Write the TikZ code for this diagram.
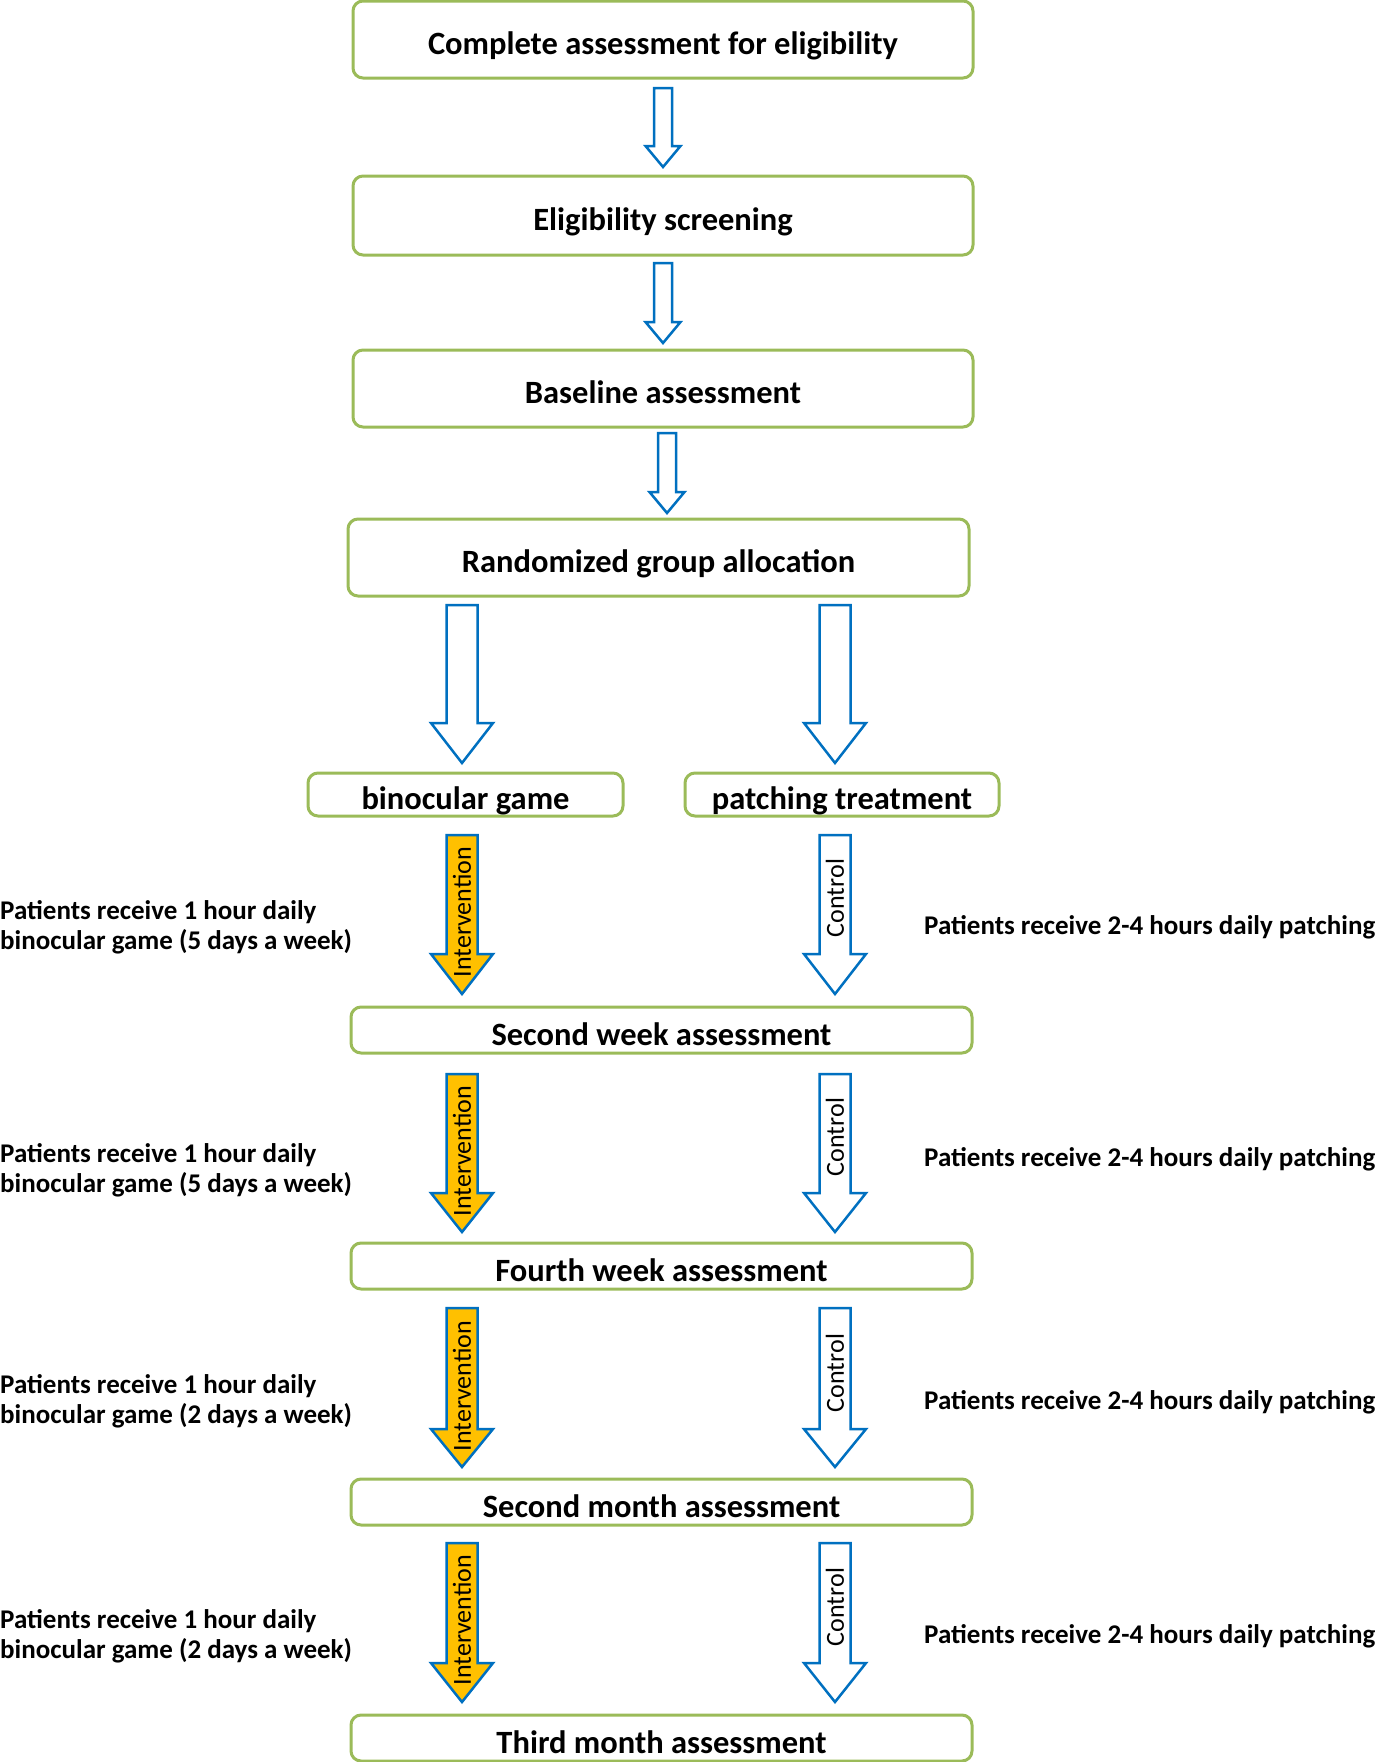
\documentclass[tikz,border=0pt]{standalone}
\usepackage{fontspec}
\setmainfont{Carlito}
\definecolor{boxgreen}{HTML}{9BBB59}
\definecolor{arrblue}{HTML}{0070C0}
\definecolor{gold}{HTML}{FFC000}
\newcommand{\blockarr}[7]{%
  \draw[arrowline, fill=#7] (#1-#5,#2) -- (#1+#5,#2) -- (#1+#5,#3) -- (#1+#6,#3) -- (#1,#4) -- (#1-#6,#3) -- (#1-#5,#3) -- cycle;}
\begin{document}
\begin{tikzpicture}[x=1pt,y=-1pt,
  stagebox/.style={draw=boxgreen, line width=3pt, rounded corners=10pt, fill=white, inner sep=0pt,
     font=\fontsize{32.5}{36}\selectfont\bfseries, text height=32pt, text depth=2pt},
  arrowline/.style={draw=arrblue, line width=2.5pt, line join=miter},
  sidetext/.style={font=\fontsize{27}{30}\selectfont\bfseries, align=left, inner sep=0pt},
  armlabel/.style={font=\fontsize{26}{30}\selectfont, rotate=90, inner sep=0pt}]
\useasboundingbox (0,0) rectangle (1377,1762);
% boxes
\node[stagebox, minimum width=620pt, minimum height=77pt] (b1) at (663,39.5) {Complete assessment for eligibility};
\node[stagebox, minimum width=620pt, minimum height=79pt] (b2) at (663,215.5) {Eligibility screening};
\node[stagebox, minimum width=620pt, minimum height=77pt] (b3) at (663,388.5) {Baseline assessment};
\node[stagebox, minimum width=621pt, minimum height=77pt] (b4) at (658.5,557.5) {Randomized group allocation};
\node[stagebox, minimum width=315pt, minimum height=43pt] (bg) at (465.5,794.5) {binocular game};
\node[stagebox, minimum width=314pt, minimum height=43pt] (pt) at (842,794.5) {patching treatment};
\node[stagebox, minimum width=621pt, minimum height=46pt] (w2) at (661.5,1030) {Second week assessment};
\node[stagebox, minimum width=621pt, minimum height=46pt] (w4) at (661.5,1266) {Fourth week assessment};
\node[stagebox, minimum width=621pt, minimum height=46pt] (m2) at (661.5,1502) {Second month assessment};
\node[stagebox, minimum width=621pt, minimum height=46pt] (m3) at (661.5,1738) {Third month assessment};
% small arrows
\blockarr{663}{88}{146}{167}{9}{17.5}{white}
\blockarr{663}{263}{322}{343}{9}{17.5}{white}
\blockarr{667}{433}{492}{513}{9}{17.5}{white}
% big arrows
\blockarr{462}{605}{723}{763}{15.5}{31}{white}
\blockarr{835}{605}{723}{763}{15.5}{31}{white}
% arm arrows
\foreach \yt/\yh/\yb in {835/954/994, 1074/1193/1232, 1308/1429/1467, 1543/1663/1702}{
  \blockarr{462}{\yt}{\yh}{\yb}{15.5}{31}{gold}
  \blockarr{835}{\yt}{\yh}{\yb}{15.5}{31}{white}
}
\node[armlabel] (i1) at (462,912) {Intervention};
\node[armlabel] (c1) at (835,898) {Control};
\node[armlabel] (i2) at (462,1151) {Intervention};
\node[armlabel] (c2) at (835,1137) {Control};
\node[armlabel] (i3) at (462,1386) {Intervention};
\node[armlabel] (c3) at (835,1373) {Control};
\node[armlabel] (i4) at (462,1620) {Intervention};
\node[armlabel] (c4) at (835,1607) {Control};
% side texts
\node[sidetext, anchor=west] (l1) at (0,927) {Patients receive 1 hour daily\\binocular game (5 days a week)};
\node[sidetext, anchor=west] (l2) at (0,1170) {Patients receive 1 hour daily\\binocular game (5 days a week)};
\node[sidetext, anchor=west] (l3) at (0,1401) {Patients receive 1 hour daily\\binocular game (2 days a week)};
\node[sidetext, anchor=west] (l4) at (0,1636) {Patients receive 1 hour daily\\binocular game (2 days a week)};
\node[sidetext, anchor=west] (r1) at (924,927) {Patients receive 2-4 hours daily patching};
\node[sidetext, anchor=west] (r2) at (924,1159) {Patients receive 2-4 hours daily patching};
\node[sidetext, anchor=west] (r3) at (924,1402) {Patients receive 2-4 hours daily patching};
\node[sidetext, anchor=west] (r4) at (924,1636) {Patients receive 2-4 hours daily patching};
\end{tikzpicture}
\end{document}
